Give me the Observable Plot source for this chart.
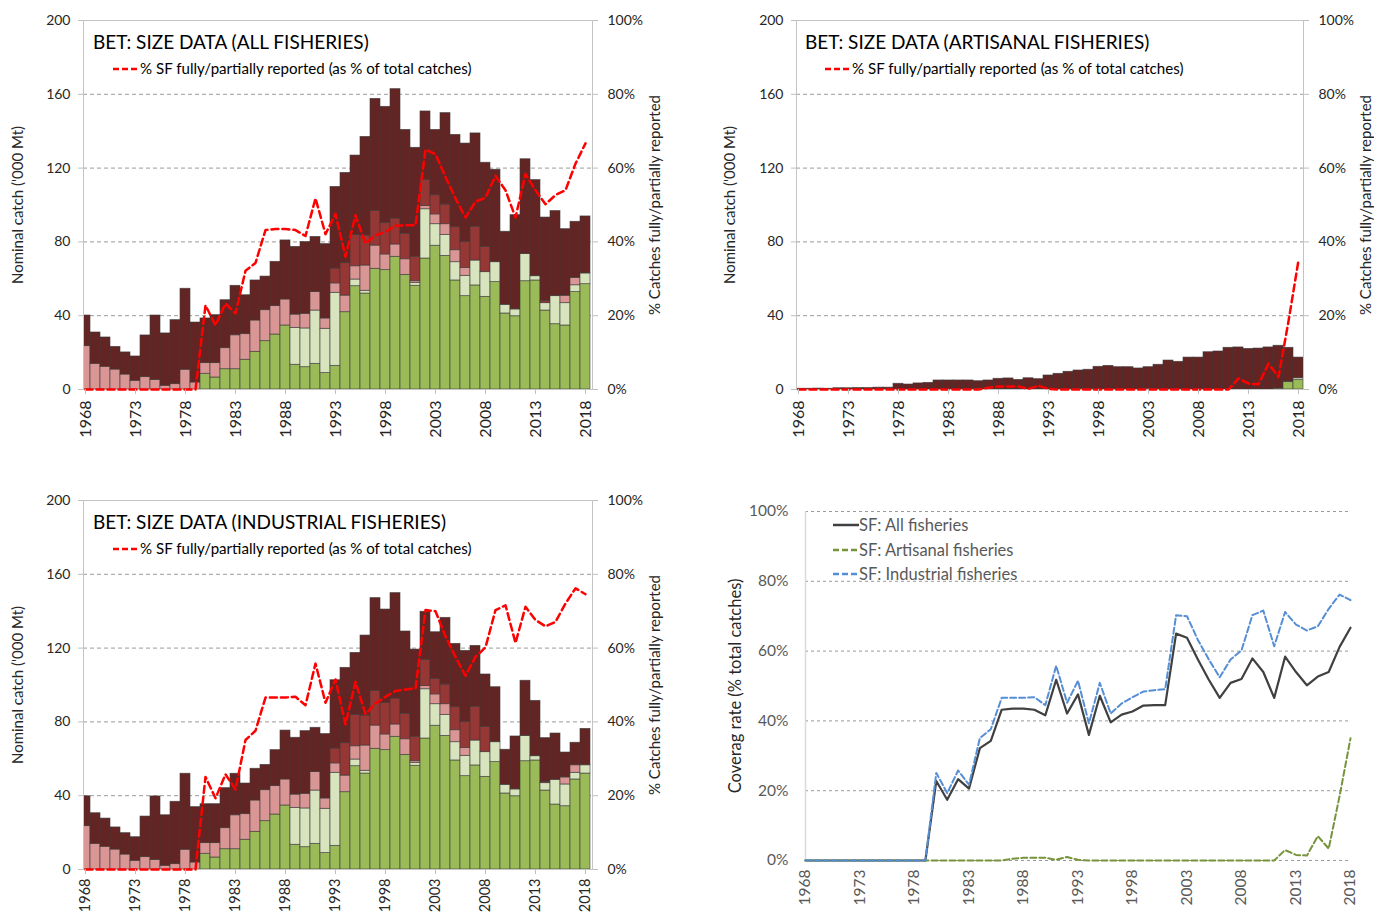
<!DOCTYPE html>
<html><head><meta charset="utf-8">
<script src="https://cdn.jsdelivr.net/npm/d3@7"></script>
<script src="https://cdn.jsdelivr.net/npm/@observablehq/plot@0.6"></script>
<style>
body{margin:0;background:#fff;font-family:Lato,"Open Sans",sans-serif;}
#wrap{position:relative;width:1374px;height:914px;overflow:hidden;background:#fff;}
.panel{position:absolute;}
.title{position:absolute;font-size:19px;line-height:1;color:#000;white-space:nowrap;}
.leg{position:absolute;font-size:15.1px;line-height:1;color:#000;display:flex;align-items:center;white-space:nowrap;}
.leg svg{margin-right:3px;}
.leg4{position:absolute;font-size:16.5px;line-height:1;color:#595959;display:flex;align-items:center;white-space:nowrap;}
</style></head><body><div id="wrap"></div>
<script>
// ---------- data ----------
const years = [1968,1969,1970,1971,1972,1973,1974,1975,1976,1977,1978,1979,1980,1981,1982,1983,1984,1985,1986,1987,1988,1989,1990,1991,1992,1993,1994,1995,1996,1997,1998,1999,2000,2001,2002,2003,2004,2005,2006,2007,2008,2009,2010,2011,2012,2013,2014,2015,2016,2017,2018];
const tickYears = [1968,1973,1978,1983,1988,1993,1998,2003,2008,2013,2018];
const categories = ["SF fully reported","SF partially reported","No SF (type A)","No SF (type B)","No SF"];
const catColors = ["#9bbb59","#d7e4bd","#d99694","#953735","#632523"];

// All fisheries ('000 t)
const allGreen = [0,0,0,0,0,0,0,0,0,0,0,0, 8.5,6.5,11.0,11.0,16.1,20.4,26.2,29.8,34.7,13.4, 12.1,13.9,8.9,12.8,41.9,56.0,52.0,65.4,64.7,71.9, 62.1,56.2,71.0,77.9,72.4,59.1,50.6,56.4,50.2,58.2, 41.2,39.7,58.7,59.1,42.8,35.4,34.7,52.8,57.1];
const allLightGreen = [0,0,0,0,0,0,0,0,0,0,0,0,0,0,0,0,0,0,0,0,0, 20.0, 21.0,28.9,24.0,39.6,0,3.6,1.5,0,0,0, 0,1.6,26.7,11.7,11.4,9.9,11.0,13.5,13.4,10.8, 4.7,3.7,14.7,2.3,4.0,15.2,12.1,3.7,5.8];
const allPink = [23.5,13.9,12.3,10.8,8.1,4.7,6.7,5.2,2.0,2.9,10.7,3.8, 5.8,7.8,11.4,18.4,13.9,17.0,16.8,15.4,14.1,7.2, 7.9,10.0,5.6,5.1,9.0,7.2,13.7,12.6,8.5,6.7, 8.5,0.9,1.7,5.3,5.8,6.5,4.3,0,0,0, 0,0,0,0,0,0,4.0,4.0,0];
const allMedRed = [0,0,0,0,0,0,0,0,0,0,0,0,0,0,0,0,0,0,0,0,0,0,0,0,0, 8.1,17.6,17.0,16.3,18.8,17.0,14.1, 13.8,13.2,14.2,10.4,10.7,12.5,14.1,18.3,13.7,0, 0,0,0,0,1.1,0,0,0,0];
const allDarkRed = [16.6,17.0,15.9,12.3,12.0,13.2,22.6,34.9,28.4,34.7,43.9,32.5, 24.2,26.0,26.0,26.8,21.1,21.7,18.2,24.0,32.0,36.7, 38.9,29.9,40.3,44.2,48.9,43.0,53.4,60.7,63.0,70.1, 56.3,59.1,37.1,35.4,49.5,50.0,53.3,50.6,45.6,50.1, 39.6,51.1,51.4,52.1,45.3,46.1,36.1,30.4,30.9];
const allPct = [0,0,0,0,0,0,0,0,0,0,0,0, 22.8,17.4,23.3,20.6,32.2,34.3,43.2,43.5,43.5,43.2, 41.6,51.8,42.1,47.6,36.0,47.2,39.6,41.8,42.7,44.4, 44.5,44.5,65.0,63.8,57.6,51.8,46.6,50.9,52.0,57.9, 54.0,46.6,58.4,54.0,50.2,52.7,54.0,61.2,66.7];

// Artisanal fisheries ('000 t)
const artGreen = [0,0,0,0,0,0,0,0,0,0,0,0,0,0,0,0,0,0,0,0,0,0,0,0,0,0,0,0,0,0,0,0,0,0,0,0,0,0,0,0,0,0,0,0,0,0,0,0,0,4.0,5.1];
const artLightGreen = [0,0,0,0,0,0,0,0,0,0,0,0,0,0,0,0,0,0,0,0,0,0,0,0,0,0,0,0,0,0,0,0,0,0,0,0,0,0,0,0,0,0,0,0,0,0,0,0,0.5,0.3,1.0];
const artPink = [0,0,0,0,0,0,0,0,0,0,0,0, 0,0,0,0,0,0,0.5,0,0,0, 0,0,0,0,0,0,0.4,0.4,0,0, 0,0,0,0.5,0,0,0,0,0,0, 0,0,0,0,0,0,0,0,0];
const artMedRed = [0,0,0,0,0,0,0,0,0,0,0,0,0,0,0,0,0,0,0,0,0,0,0,0,0,0,0,0,0,0,0,0,0,0,0,0,0,0,0,0,0,0,0,0,0,0,0,0,0,0,0];
const artDarkRed = [0.4,0.4,0.5,0.4,0.7,0.7,0.8,0.8,1.0,1.0,3.1,2.7, 3.3,3.6,4.9,4.9,4.9,4.9,4.0,4.9,5.8,6.0, 5.2,6.1,5.6,7.6,8.5,9.6,9.9,10.3,12.3,12.8, 12.1,12.1,11.4,11.6,13.4,15.7,15.0,17.3,17.3,20.2, 20.6,22.6,22.8,22.0,22.2,22.8,23.2,18.3,11.2];
const artPct = [0,0,0,0,0,0,0,0,0,0,0,0, 0,0,0,0,0,0,0,0.5,0.8,0.8, 0.8,0.2,1.0,0.2,0,0,0,0,0,0, 0,0,0,0,0,0,0,0,0,0, 0,0,3.0,1.6,1.4,7.0,3.4,18.5,35.0];

// Industrial fisheries ('000 t)
const indGreen = [0,0,0,0,0,0,0,0,0,0,0,0, 8.5,6.5,11.0,11.0,16.1,20.4,26.2,29.8,34.7,13.4, 12.1,13.9,8.9,12.8,41.9,56.0,52.0,65.4,64.7,71.9, 62.1,56.2,71.0,77.9,72.4,59.1,50.6,56.4,50.2,58.2, 41.2,39.7,58.7,59.1,42.8,35.2,34.3,48.8,52.0];
const indLightGreen = [0,0,0,0,0,0,0,0,0,0,0,0,0,0,0,0,0,0,0,0,0, 20.0, 21.0,28.9,24.0,39.6,0,3.6,1.5,0,0,0, 0,1.6,26.7,11.7,11.4,9.9,11.0,13.5,13.4,10.8, 4.7,3.7,13.7,2.3,4.0,13.4,11.8,3.6,4.5];
const indPink = [23.5,13.9,12.3,10.8,8.1,4.7,6.7,5.2,2.0,2.9,10.7,3.8, 5.8,7.8,11.4,18.4,13.9,17.0,16.8,15.4,14.1,7.2, 7.9,10.0,5.6,5.1,9.0,7.2,13.7,12.6,8.5,6.7, 8.5,0.9,1.7,5.3,5.8,6.5,4.3,0,0,0, 0,0,0,0,0,0,3.8,4.1,0];
const indMedRed = [0,0,0,0,0,0,0,0,0,0,0,0,0,0,0,0,0,0,0,0,0,0,0,0,0, 8.1,17.6,17.0,16.3,18.8,17.0,14.1, 13.8,13.2,14.2,8.4,10.7,12.5,14.1,18.3,13.7,0, 0,0,0,0,0.7,0,0,0,0];
const indDarkRed = [16.2,16.6,15.3,12.0,11.6,12.8,22.0,34.4,27.4,33.8,41.2,30.0, 21.1,21.1,21.7,22.5,16.6,17.2,13.7,19.5,26.5,30.8, 34.0,24.0,34.9,37.0,40.8,33.6,43.3,50.3,50.7,57.1, 44.6,47.3,26.1,25.3,36.1,34.3,38.5,33.0,28.4,29.8, 19.0,28.7,29.9,30.0,23.7,25.1,13.5,12.2,19.7];
const indPct = [0,0,0,0,0,0,0,0,0,0,0,0, 25.1,19.3,25.8,21.7,35.1,37.6,46.6,46.6,46.6,46.8, 44.5,55.8,45.2,51.5,39.3,50.9,42.1,45.0,46.8,48.4, 48.8,49.1,70.3,70.0,63.2,57.6,52.5,57.6,60.2,70.3, 71.6,61.4,71.2,67.6,65.9,67.1,72.1,76.2,74.6];

const leftTicks = [0,40,80,120,160,200];
const pctTicks = [0,20,40,60,80,100];

// ---------- drawing ----------
const wrap = document.getElementById("wrap");

function place(node, left, top) {
  const d = document.createElement("div");
  d.className = "panel";
  d.style.left = left + "px"; d.style.top = top + "px";
  d.appendChild(node);
  wrap.appendChild(d);
}
function addTitle(text, left, top) {
  const d = document.createElement("div");
  d.className = "title"; d.textContent = text;
  d.style.left = left + "px"; d.style.top = top + "px";
  wrap.appendChild(d);
}
function addLegend(cls, text, left, top, color, dash, width) {
  const d = document.createElement("div");
  d.className = cls;
  d.style.left = left + "px"; d.style.top = top + "px";
  d.innerHTML = `<svg width="${width}" height="6"><line x1="0" y1="3" x2="${width}" y2="3" stroke="${color}" stroke-width="2.5" ${dash ? `stroke-dasharray="${dash}"` : ""}/></svg>`;
  const s = document.createElement("span"); s.textContent = text; d.appendChild(s);
  wrap.appendChild(d);
}

function barPanel(series, pct, o) {
  const rows = [];
  years.forEach((yr, i) => {
    categories.forEach((c, k) => rows.push({year: yr, cat: c, value: series[k][i]}));
  });
  const line = years.map((yr, i) => ({year: yr, pct: pct[i]}));
  return Plot.plot({
    width: o.width, height: o.height,
    marginLeft: o.marginLeft, marginRight: o.marginRight, marginTop: o.marginTop, marginBottom: o.marginBottom,
    style: {fontFamily: "Lato, sans-serif", fontSize: "14px", color: "#262626", background: "transparent", overflow: "visible"},
    x: {type: "band", domain: years, range: o.xRange, padding: 0.04, axis: null},
    y: {domain: [0, 200], axis: null},
    color: {domain: categories, range: catColors},
    marks: [
      Plot.gridY([40, 80, 120, 160], {stroke: "#9a9a9a", strokeOpacity: 1, strokeDasharray: "4,3"}),
      Plot.barY(rows, Plot.stackY({x: "year", y: "value", fill: "cat", stroke: "#3a3a3a", strokeWidth: 0.8, strokeOpacity: 0.75, clip: true})),
      Plot.frame({stroke: "#c4c4c4"}),
      Plot.line(line, {x: "year", y: d => d.pct * 2, stroke: "#ff0000", strokeWidth: 2.5, strokeDasharray: "7,4"}),
      Plot.axisY(leftTicks, {anchor: "left", tickSize: 5, tickPadding: 8, stroke: "#bfbfbf", fill: "#262626", fontSize: 14, label: null}),
      Plot.axisY(leftTicks, {anchor: "right", tickSize: 5, tickPadding: 10, stroke: "#bfbfbf", fill: "#262626", fontSize: 14,
        tickFormat: d => `${d / 2}%`, label: null}),
      Plot.text(["Nominal catch ('000 Mt)"], {frameAnchor: "left", textAnchor: "middle", text: d => d, rotate: -90, dx: -o.labelOffsetL, fontSize: 15, fill: "#262626"}),
      Plot.text(["% Catches fully/partially reported"], {frameAnchor: "right", textAnchor: "middle", text: d => d, rotate: -90, dx: o.labelOffsetR, fontSize: 15, fill: "#262626"}),
      Plot.axisX(tickYears, {tickRotate: -90, tickSize: 5, tickPadding: o.xPad, stroke: "#bfbfbf", fill: "#262626", fontSize: o.xFont, label: null, tickFormat: d => String(d)})
    ]
  });
}

// Panel 1: all fisheries
place(barPanel([allGreen, allLightGreen, allPink, allMedRed, allDarkRed], allPct,
  {width: 700, height: 460, marginLeft: 83, marginRight: 108, marginTop: 20, marginBottom: 71, xRange: [79, 591], labelOffsetL: 65, labelOffsetR: 63, xFont: 16, xPad: 6}), 0, 0);
addTitle("BET: SIZE DATA (ALL FISHERIES)", 93, 32);
addLegend("leg", "% SF fully/partially reported (as % of total catches)", 113, 61, "#ff0000", "6,3", 24);

// Panel 2: artisanal
place(barPanel([artGreen, artLightGreen, artPink, artMedRed, artDarkRed], artPct,
  {width: 674, height: 460, marginLeft: 96, marginRight: 71, marginTop: 20, marginBottom: 71, xRange: [92, 603], labelOffsetL: 66, labelOffsetR: 63, xFont: 16, xPad: 6}), 700, 0);
addTitle("BET: SIZE DATA (ARTISANAL FISHERIES)", 805, 32);
addLegend("leg", "% SF fully/partially reported (as % of total catches)", 825, 61, "#ff0000", "6,3", 24);

// Panel 3: industrial
place(barPanel([indGreen, indLightGreen, indPink, indMedRed, indDarkRed], indPct,
  {width: 700, height: 434, marginLeft: 83, marginRight: 108, marginTop: 20, marginBottom: 45, xRange: [79, 591], labelOffsetL: 65, labelOffsetR: 63, xFont: 14.5, xPad: 4}), 0, 480);
addTitle("BET: SIZE DATA (INDUSTRIAL FISHERIES)", 93, 512);
addLegend("leg", "% SF fully/partially reported (as % of total catches)", 113, 541, "#ff0000", "6,3", 24);

// Panel 4: coverage rates
const cov = years.map((yr, i) => ({year: yr, all: allPct[i], art: artPct[i], ind: indPct[i]}));
place(Plot.plot({
  width: 674, height: 434, marginLeft: 105, marginRight: 24, marginTop: 31, marginBottom: 54,
  style: {fontFamily: "Lato, sans-serif", fontSize: "15px", color: "#595959", background: "transparent", overflow: "visible"},
  x: {domain: [1968, 2018], axis: null},
  y: {domain: [0, 100], axis: null},
  marks: [
    Plot.gridY(pctTicks, {stroke: "#9a9a9a", strokeOpacity: 1, strokeDasharray: "3,3"}),
    Plot.ruleX([1968], {stroke: "#d9d9d9", strokeWidth: 1.5}),
    Plot.axisY(pctTicks, {anchor: "left", tickSize: 0, tickPadding: 17, fill: "#595959", fontSize: 15.5, tickFormat: d => `${d}%`, label: null}),
    Plot.text(["Coverag rate (% total catches)"], {frameAnchor: "left", textAnchor: "middle", text: d => d, rotate: -90, dx: -70, fontSize: 16.5, fill: "#262626"}),
    Plot.axisX(tickYears, {tickRotate: -90, tickSize: 0, tickPadding: 9, fill: "#595959", fontSize: 15.5, label: null, tickFormat: d => String(d)}),
    Plot.line(cov, {x: "year", y: "all", stroke: "#404040", strokeWidth: 2.2}),
    Plot.line(cov, {x: "year", y: "art", stroke: "#77933c", strokeWidth: 2, strokeDasharray: "6,3"}),
    Plot.line(cov, {x: "year", y: "ind", stroke: "#558ed5", strokeWidth: 2, strokeDasharray: "6,3"})
  ]
}), 700, 480);
addLegend("leg4", "SF: All fisheries", 833, 517, "#404040", null, 26);
addLegend("leg4", "SF: Artisanal fisheries", 833, 542, "#77933c", "6,3", 26);
addLegend("leg4", "SF: Industrial fisheries", 833, 566, "#558ed5", "6,3", 26);
</script></body></html>
